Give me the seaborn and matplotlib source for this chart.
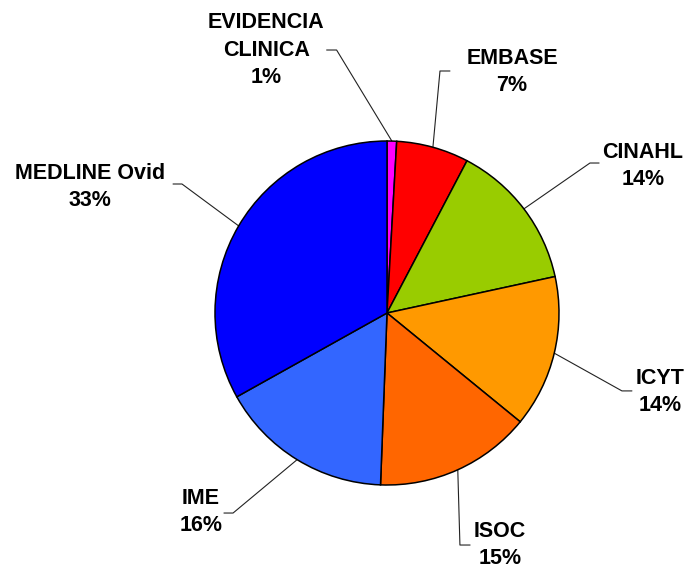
import matplotlib
matplotlib.use("Agg")
import matplotlib.pyplot as plt
import seaborn as sns
import numpy as np

# ---- data ----
categories = ["EVIDENCIA\nCLINICA", "EMBASE", "CINAHL", "ICYT", "ISOC", "IME", "MEDLINE Ovid"]
values = [0.9, 6.8, 13.9, 14.3, 14.7, 16.3, 33.1]
colors = ["#FF00FF", "#FF0000", "#99CC00", "#FF9900", "#FF6600", "#3366FF", "#0000FF"]

# ---- layout (label centre, end of leader's horizontal stub, elbow) in radius units ----
label_pos = [(-0.703, 1.529), (0.727, 1.401), (1.488, 0.855), (1.587, -0.459),
             (0.657, -1.349), (-1.081, -1.157), (-1.727, 0.733)]
elbow_pos = [(-0.293, 1.529), (0.308, 1.407), (1.180, 0.872), (1.366, -0.453),
             (0.424, -1.349), (-0.895, -1.163), (-1.192, 0.750)]
stub_pos = [(-0.351, 1.529), (0.366, 1.407), (1.233, 0.872), (1.424, -0.453),
            (0.483, -1.349), (-0.948, -1.163), (-1.244, 0.750)]

sns.set_theme(style="white")
plt.rcParams["font.family"] = ["Liberation Sans", "DejaVu Sans"]

fig = plt.figure(figsize=(6.89, 5.71), dpi=100)
ax = fig.add_axes([215 / 689, (571 - 313 - 172) / 571, 344 / 689, 344 / 571])

wedges, _ = ax.pie(values, colors=colors, startangle=90, counterclock=False,
                   radius=1.0, wedgeprops=dict(edgecolor="black", linewidth=1.1))
ax.set_xlim(-1, 1)
ax.set_ylim(-1, 1)
ax.set_aspect("equal")
ax.axis("off")

total = sum(values)
for w, name, v, lp, ep, sp in zip(wedges, categories, values, label_pos, elbow_pos, stub_pos):
    mid = np.deg2rad((w.theta1 + w.theta2) / 2)
    x0, y0 = np.cos(mid), np.sin(mid)
    ax.plot([x0, ep[0], sp[0]], [y0, ep[1], sp[1]], color="#222222", lw=0.8,
            clip_on=False, zorder=0)
    pct = int(round(v / total * 100))
    ax.text(lp[0], lp[1], f"{name}\n{pct}%", ha="center", va="center",
            fontsize=15.5, fontweight="bold", color="black", linespacing=1.38,
            clip_on=False)

fig.savefig("out.png", dpi=100, facecolor="white")
